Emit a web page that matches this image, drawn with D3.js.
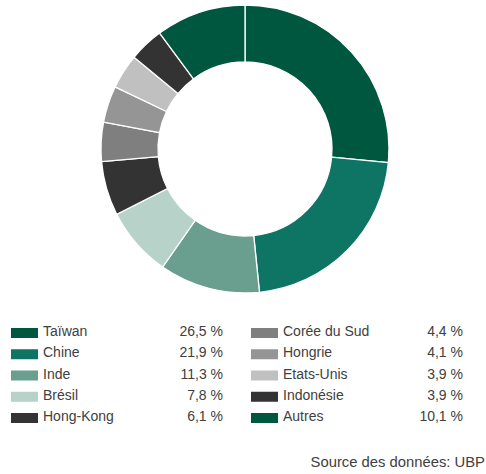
<!DOCTYPE html>
<html>
<head>
<meta charset="utf-8">
<script src="https://cdn.jsdelivr.net/npm/d3@7"></script>
<style>
  body { margin: 0; background: #fff; }
  svg { display: block; font-family: "Liberation Sans", Arial, Helvetica, sans-serif; }
  .lbl { fill: #404040; font-size: 14px; }
  .src { fill: #404040; font-size: 14.8px; }
</style>
</head>
<body>
<div id="chart"></div>
<script>
const countries = ['Taïwan', 'Chine', 'Inde', 'Brésil', 'Hong-Kong', 'Corée du Sud', 'Hongrie', 'Etats-Unis', 'Indonésie', 'Autres'];
const shares = [26.5, 21.9, 11.3, 7.8, 6.1, 4.4, 4.1, 3.9, 3.9, 10.1];
const colors = ['#00573f', '#0e7565', '#6a9e8e', '#b7d2c8', '#333333', '#7f7f7f', '#959595', '#c0c0c0', '#333333', '#00573f'];
const sourceText = 'Source des données: UBP';

const W = 486, H = 474;
const cx = 245, cy = 149, outerR = 144, innerR = 87;

const data = countries.map((c, i) => ({ name: c, value: shares[i], color: colors[i] }));
const fmt = v => v.toFixed(1).replace('.', ',') + ' %';

const svg = d3.select('#chart').append('svg')
  .attr('width', W)
  .attr('height', H);

const pie = d3.pie().sort(null).value(d => d.value);
const arc = d3.arc().innerRadius(innerR).outerRadius(outerR);

svg.append('g')
  .attr('transform', `translate(${cx},${cy})`)
  .selectAll('path')
  .data(pie(data))
  .join('path')
  .attr('d', arc)
  .attr('fill', d => d.data.color)
  .attr('stroke', '#fff')
  .attr('stroke-width', 1.3);

// legend: two columns of five
const rowY = d3.scalePoint().domain(d3.range(5)).range([333, 418]);
const cols = [
  { swatch: 11, label: 43, value: 223 },
  { swatch: 251, label: 283, value: 463 }
];

const row = svg.append('g').selectAll('g')
  .data(data)
  .join('g')
  .attr('transform', (d, i) => `translate(0,${rowY(i % 5)})`);

row.append('rect')
  .attr('x', (d, i) => cols[Math.floor(i / 5)].swatch)
  .attr('y', -5)
  .attr('width', 27)
  .attr('height', 10)
  .attr('fill', d => d.color);

row.append('text')
  .attr('class', 'lbl')
  .attr('x', (d, i) => cols[Math.floor(i / 5)].label)
  .attr('y', 3)
  .text(d => d.name);

row.append('text')
  .attr('class', 'lbl')
  .attr('x', (d, i) => cols[Math.floor(i / 5)].value)
  .attr('y', 3)
  .attr('text-anchor', 'end')
  .text(d => fmt(d.value));

svg.append('text')
  .attr('class', 'src')
  .attr('x', 485)
  .attr('y', 467)
  .attr('text-anchor', 'end')
  .text(sourceText);
</script>
</body>
</html>
